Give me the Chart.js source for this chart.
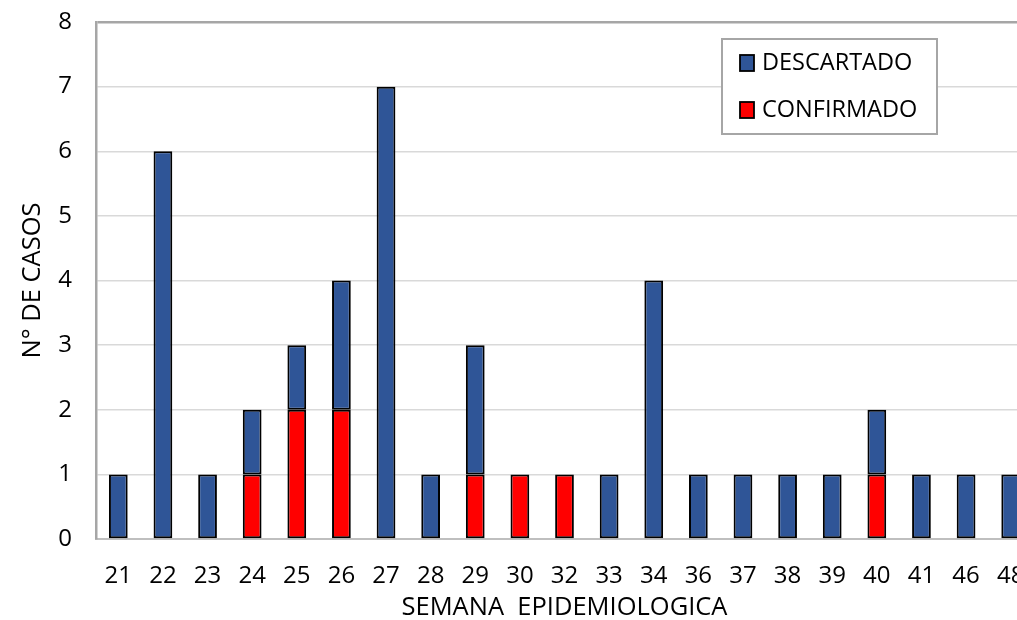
<!DOCTYPE html>
<html>
<head>
<meta charset="utf-8">
<script src="https://cdn.jsdelivr.net/npm/chart.js@4"></script>
<style>
html,body{margin:0;padding:0;background:#fff;overflow:hidden;width:1017px;height:620px;}
#wrap{width:1050px;height:620px;position:relative;}
</style>
</head>
<body>
<div id="wrap"><canvas id="c" width="1050" height="620"></canvas></div>
<script>
const categories = ['21','22','23','24','25','26','27','28','29','30','32','33','34','36','37','38','39','40','41','46','48'];
const confirmado = [0,0,0,1,2,2,0,0,1,1,1,0,0,0,0,0,0,1,0,0,0];
const descartado = [1,6,1,1,1,2,7,1,2,0,0,1,4,1,1,1,1,1,1,1,1];
const yTicks = [0,1,2,3,4,5,6,7,8];

const FONT = '"Open Sans", "Noto Sans", sans-serif';

const legendBox = {
  id: 'legendBox',
  afterDraw(chart) {
    const ctx = chart.ctx;
    const x = 722, y = 39, w = 215, h = 95;
    ctx.save();
    ctx.fillStyle = '#fff';
    ctx.fillRect(x, y, w, h);
    ctx.strokeStyle = '#a6a6a6';
    ctx.lineWidth = 2;
    ctx.strokeRect(x, y, w, h);
    const items = chart.data.datasets.slice().reverse();
    items.forEach((ds, i) => {
      const cy = 63 + i * 47;
      ctx.fillStyle = ds.backgroundColor;
      ctx.fillRect(740, cy - 8, 14, 16);
      ctx.strokeStyle = '#000';
      ctx.lineWidth = 1.8;
      ctx.strokeRect(740, cy - 8, 14, 16);
      ctx.fillStyle = '#000';
      ctx.font = '23.5px ' + FONT;
      ctx.textBaseline = 'middle';
      ctx.textAlign = 'left';
      ctx.fillText(ds.label, 762, cy);
    });
    ctx.restore();
  }
};

new Chart(document.getElementById('c'), {
  type: 'bar',
  data: {
    labels: categories,
    datasets: [
      { label: 'CONFIRMADO', data: confirmado, backgroundColor: '#FF0000', borderColor: '#000', borderWidth: 2, borderSkipped: false, barPercentage: 0.42, categoryPercentage: 1 },
      { label: 'DESCARTADO', data: descartado, backgroundColor: '#2F5597', borderColor: '#000', borderWidth: 2, borderSkipped: false, barPercentage: 0.42, categoryPercentage: 1 }
    ]
  },
  options: {
    responsive: false,
    animation: false,
    events: [],
    layout: { padding: { left: 0, right: 17, top: 22, bottom: 0 } },
    plugins: { legend: { display: false }, tooltip: { enabled: false } },
    scales: {
      x: {
        stacked: true,
        grid: { display: false, drawTicks: false },
        border: { display: true, color: '#bfbfbf', width: 2 },
        ticks: { color: '#000', font: { family: FONT, size: 24 }, padding: 23, maxRotation: 0, autoSkip: false },
        title: { display: true, text: 'SEMANA  EPIDEMIOLOGICA', color: '#000', font: { family: FONT, size: 25.5, lineHeight: 1 }, padding: { top: 0, bottom: 0 } },
        afterFit(s) { s.height = 81; s.paddingLeft = 0; s.paddingRight = 0; }
      },
      y: {
        stacked: true,
        min: 0, max: 8,
        afterBuildTicks(s) { s.ticks = yTicks.map(v => ({ value: v })); },
        grid: {
          drawTicks: false,
          color: c => (c.tick && c.tick.value === 8) ? '#a6a6a6' : '#d9d9d9',
          lineWidth: c => (c.tick && c.tick.value === 8) ? 2.5 : 1.5
        },
        border: { display: true, color: '#a6a6a6', width: 2.5 },
        ticks: { color: '#000', font: { family: FONT, size: 24 }, padding: 24 },
        title: { display: true, text: 'N° DE CASOS', color: '#000', font: { family: FONT, size: 25.5, lineHeight: 1 }, padding: { top: 20, bottom: 0 } },
        afterFit(s) { s.width = 96; s.paddingTop = 0; s.paddingBottom = 0; }
      }
    }
  },
  plugins: [legendBox]
});
</script>
</body>
</html>
